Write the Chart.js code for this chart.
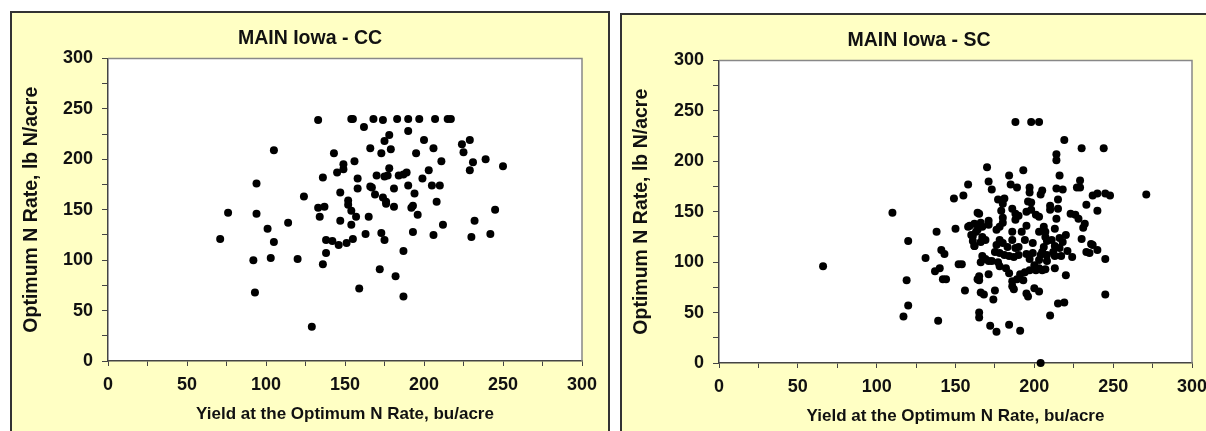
<!DOCTYPE html>
<html>
<head>
<meta charset="utf-8">
<script src="https://cdn.jsdelivr.net/npm/chart.js@4"></script>
<style>
  body { margin: 0; width: 1206px; height: 431px; overflow: hidden; background: #fff; position: relative; }
  .panel { position: absolute; background: #ffffc4; border: 2px solid #333; border-bottom: none; height: 440px; overflow: hidden; }
  #panelCC { left: 10px; top: 11px; width: 596px; }
  #panelSC { left: 620px; top: 13px; width: 620px; }
  canvas { position: absolute; left: 0; top: 0; }
</style>
</head>
<body>
<div class="panel" id="panelCC"><canvas id="chartCC" width="596" height="418"></canvas></div>
<div class="panel" id="panelSC"><canvas id="chartSC" width="594" height="418"></canvas></div>
<script>
// MAIN Iowa - CC (corn after corn)
const ccYield = [71, 76, 92, 94, 94, 93, 101, 103, 105, 105, 114, 120, 124, 129, 133, 133, 134, 136, 137, 136,
  138, 138, 142, 143, 145, 146, 147, 147, 149, 149, 151, 152, 152, 154, 154, 155, 154, 155, 156, 157,
  158, 158, 159, 162, 163, 165, 166, 166, 168, 167, 169, 170, 172, 173, 173, 174, 174, 175, 175, 176,
  176, 175, 177, 178, 178, 179, 181, 181, 182, 183, 184, 187, 187, 187, 189, 190, 190, 190, 192, 193,
  193, 194, 195, 196, 197, 199, 200, 203, 205, 206, 206, 207, 208, 210, 211, 212, 215, 217, 224, 225,
  229, 229, 230, 231, 232, 239, 242, 245, 250];
const ccRate = [121, 147, 100, 146, 176, 68, 131, 102, 118, 209, 137, 101, 163, 34, 239, 152, 143, 182, 153, 96,
  120, 107, 119, 206, 187, 115, 167, 139, 195, 190, 117, 159, 155, 135, 240, 240, 149, 121, 198, 143,
  171, 181, 72, 232, 126, 143, 173, 211, 240, 172, 165, 184, 91, 127, 206, 162, 239, 120, 183, 158,
  156, 218, 184, 224, 191, 210, 171, 153, 84, 240, 184, 185, 64, 109, 187, 240, 174, 228, 152, 154,
  128, 166, 206, 145, 240, 181, 219, 189, 174, 125, 211, 240, 158, 174, 198, 135, 240, 240, 215, 207,
  219, 189, 123, 197, 139, 200, 126, 150, 193];

// MAIN Iowa - SC (corn after soybean)
const scYield = [66, 110, 120, 119, 120, 117, 131, 138, 137, 140, 139, 141, 143, 142, 144, 149, 150, 152,
  155, 158, 154, 156, 159, 161, 162, 164, 165, 164, 165, 165, 172, 176, 174,
  188, 198, 203, 219, 230, 244, 214, 214, 170, 184, 193, 216, 171, 173, 185, 189, 197, 197, 205, 204,
  214, 218, 229, 227, 229, 177, 181, 180, 196, 198, 198, 201, 203, 210, 210, 215, 215, 214, 233, 237,
  240, 245, 248, 271, 240, 223, 226, 228, 232, 231, 230, 236, 237, 240, 233, 235, 245, 245,
  165, 179, 180, 186, 188, 190, 188, 195,
  158, 162, 166, 167, 164, 171, 171, 178, 180, 176, 186, 192, 195, 203, 206, 207, 213, 220, 216, 218,
  207, 208, 211, 213, 216, 221, 224, 206, 205, 204, 203, 208, 212, 213, 217, 199, 199, 194, 190, 188,
  186, 183, 180, 178, 176, 175, 167, 166, 169, 162, 160, 163, 161, 178, 181, 184, 187, 190, 195, 197,
  200, 203, 205, 207, 208, 201, 197, 194, 191, 193, 189, 186, 186, 187, 184, 182, 178, 177, 173, 169,
  167, 166, 171, 171, 165, 166, 168, 175, 195, 196, 200, 203, 213, 220, 215, 219, 210, 184, 191, 204];
const scRate = [96, 149, 121, 82, 57, 46, 104, 130, 91, 94, 42, 112, 108, 83, 83, 163, 133, 98,
  166, 177, 98, 72, 136, 126, 116, 149, 86, 83, 45, 50, 37, 31, 63,
  239, 239, 239, 221, 213, 213, 207, 201, 194, 186, 191, 186, 180, 172, 177, 174, 174, 169, 171, 167,
  173, 172, 181, 174, 174, 162, 163, 158, 160, 159, 152, 147, 145, 156, 152, 162, 153, 143, 157, 166,
  168, 168, 166, 167, 151, 148, 147, 143, 138, 134, 123, 118, 117, 112, 110, 109, 103, 68,
  148, 151, 144, 153, 148, 146, 142, 150,
  135, 138, 139, 135, 132, 141, 137, 135, 139, 132, 130, 130, 136, 130, 135, 130, 133, 127, 124, 120,
  125, 121, 122, 116, 114, 111, 105, 115, 110, 107, 102, 107, 110, 106, 106, 119, 109, 122, 115, 114,
  122, 115, 119, 122, 117, 110, 125, 120, 122, 116, 127, 130, 121, 109, 107, 106, 105, 107, 108, 103,
  97, 94, 92, 93, 101, 92, 92, 90, 88, 82, 83, 81, 76, 73, 89, 94, 96, 100, 101, 103,
  106, 100, 101, 88, 82, 70, 68, 72, 69, 66, 74, 71, 94, 87, 59, 60, 47, 38, 32, 0];

const xTicks = [0, 50, 100, 150, 200, 250, 300];
const yTicks = [0, 50, 100, 150, 200, 250, 300];

const fontFamily = "'Liberation Sans', Arial, sans-serif";
const textColor = "#111";

// white plot area with a grey frame on top and right
const plotFrame = {
    id: "plotFrame",
    beforeDraw(chart) {
        const { ctx, chartArea: a } = chart;
        ctx.save();
        ctx.fillStyle = "#fff";
        ctx.fillRect(a.left, a.top, a.right - a.left, a.bottom - a.top);
        ctx.restore();
    },
    beforeDatasetsDraw(chart) {
        const { ctx, chartArea: a } = chart;
        ctx.save();
        ctx.strokeStyle = "#888";
        ctx.lineWidth = 1.5;
        ctx.beginPath();
        ctx.moveTo(a.left, a.top);
        ctx.lineTo(a.right, a.top);
        ctx.lineTo(a.right, a.bottom);
        ctx.stroke();
        ctx.restore();
    }
};

function makeChart(canvasId, title, xs, ys, yWidth, padRight) {
    const ctx = document.getElementById(canvasId).getContext("2d");
    const points = xs.map((x, i) => ({ x: x, y: ys[i] }));

    new Chart(ctx, {
        type: "scatter",
        data: {
            datasets: [{
                data: points,
                backgroundColor: "#000",
                borderWidth: 0,
                pointRadius: 4,
                clip: false
            }]
        },
        options: {
            responsive: false,
            animation: false,
            layout: { padding: 0 },
            plugins: {
                legend: { display: false },
                tooltip: { enabled: false },
                title: {
                    display: true,
                    text: title,
                    color: textColor,
                    font: { family: fontFamily, size: 19.5, weight: "bold" },
                    padding: { top: 14, bottom: 8 }
                }
            },
            scales: {
                x: {
                    type: "linear",
                    min: 0,
                    max: 300,
                    // fixed axis height, and keep the plot clear of the right edge
                    afterFit: s => { s.height = 70; s.paddingRight = padRight; },
                    ticks: {
                        stepSize: 25,
                        autoSkip: false,
                        maxRotation: 0,
                        padding: 8,
                        color: textColor,
                        font: { family: fontFamily, size: 18, weight: "bold" },
                        callback: v => xTicks.includes(v) ? v : ""
                    },
                    grid: { drawOnChartArea: false, drawTicks: true, tickLength: 5, color: "#444" },
                    border: { color: "#444", width: 1.5 },
                    title: {
                        display: true,
                        text: "Yield at the Optimum N Rate, bu/acre",
                        color: textColor,
                        font: { family: fontFamily, size: 17, weight: "bold" },
                        padding: { top: 0, bottom: 6 }
                    }
                },
                y: {
                    type: "linear",
                    min: 0,
                    max: 300,
                    afterFit: s => { s.width = yWidth; },
                    ticks: {
                        stepSize: 25,
                        autoSkip: false,
                        padding: 9,
                        color: textColor,
                        font: { family: fontFamily, size: 18, weight: "bold" },
                        callback: v => yTicks.includes(v) ? v : ""
                    },
                    grid: { drawOnChartArea: false, drawTicks: true, tickLength: 6, color: "#444" },
                    border: { color: "#444", width: 1.5 },
                    title: {
                        display: true,
                        text: "Optimum N Rate, lb N/acre",
                        color: textColor,
                        font: { family: fontFamily, size: 19.5, weight: "bold" },
                        padding: { top: 8, bottom: 0 }
                    }
                }
            }
        },
        plugins: [plotFrame]
    });
}

makeChart("chartCC", "MAIN Iowa - CC", ccYield, ccRate, 96, 26);
makeChart("chartSC", "MAIN Iowa - SC", scYield, scRate, 97, 24);
</script>
</body>
</html>
